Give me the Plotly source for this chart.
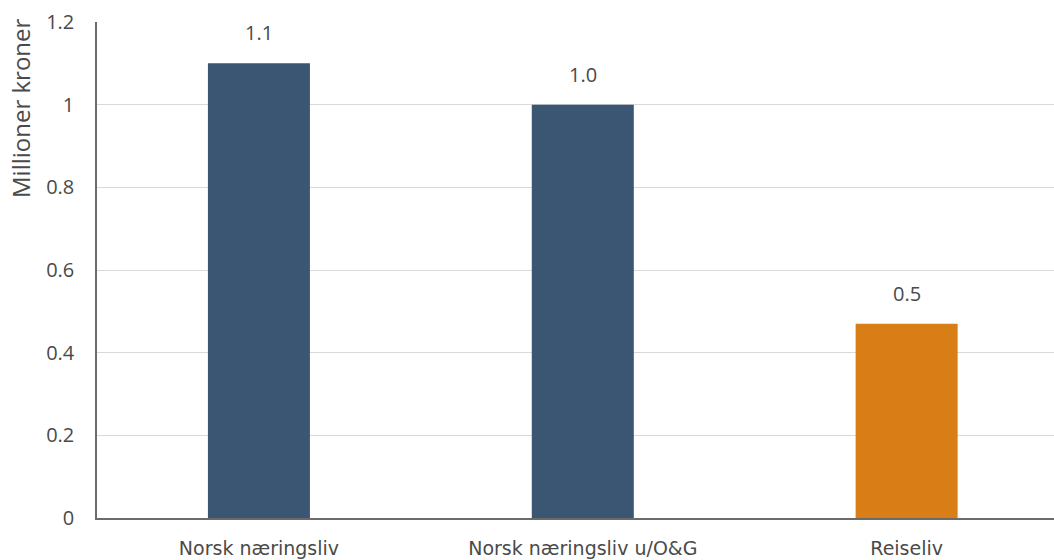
import plotly.graph_objects as go

# Bedriftsdata: verdiskaping per sysselsatt
categories = ["Norsk næringsliv", "Norsk næringsliv u/O&G", "Reiseliv"]
values = [1.1, 1.0, 0.47]
bar_colors = ["#3A5672", "#3A5672", "#D97D16"]
y_ticks = [0, 0.2, 0.4, 0.6, 0.8, 1.0, 1.2]
y_title = "Millioner kroner"

text_color = "#4a4a4a"
num_font = dict(family="Open Sans", size=20, color=text_color)

fig = go.Figure()
fig.add_trace(go.Bar(
    x=list(range(len(categories))),
    y=values,
    marker=dict(color=bar_colors, line=dict(width=0)),
    width=0.315,
    hoverinfo="skip",
))

# value labels above each bar
for i, v in enumerate(values):
    fig.add_annotation(
        x=i, y=v, xref="x", yref="y",
        text=f"{v:.1f}", showarrow=False,
        yanchor="bottom", yshift=15,
        font=num_font,
    )

# axis title placed near the top of the value axis
fig.add_annotation(
    x=0, xref="paper", xanchor="center", xshift=-76,
    y=(518 - 108) / 496, yref="paper", yanchor="middle",
    text=y_title, textangle=-90, showarrow=False,
    font=dict(family="Open Sans", size=24, color=text_color),
)

fig.update_layout(
    width=1054, height=560,
    margin=dict(l=97, r=0, t=22, b=42, autoexpand=False),
    paper_bgcolor="white", plot_bgcolor="white",
    showlegend=False,
    xaxis=dict(
        range=[-0.5, 2.455],
        tickmode="array",
        tickvals=list(range(len(categories))),
        ticktext=categories,
        tickfont=dict(family="DejaVu Sans", size=19, color=text_color),
        showgrid=False, zeroline=False,
        showline=True, linecolor="#6b6b6b", linewidth=2,
        ticks="", ticklabelstandoff=12, automargin=False,
        fixedrange=True,
    ),
    yaxis=dict(
        range=[0, 1.2],
        tickmode="array",
        tickvals=y_ticks,
        ticktext=[f"{t:g}" for t in y_ticks],
        tickfont=num_font,
        showgrid=True, gridcolor="#d9d9d9", gridwidth=1,
        zeroline=False,
        showline=True, linecolor="#6b6b6b", linewidth=1.5,
        ticks="", ticklabelstandoff=17, automargin=False,
        fixedrange=True,
    ),
)

fig.write_html("out.html")
